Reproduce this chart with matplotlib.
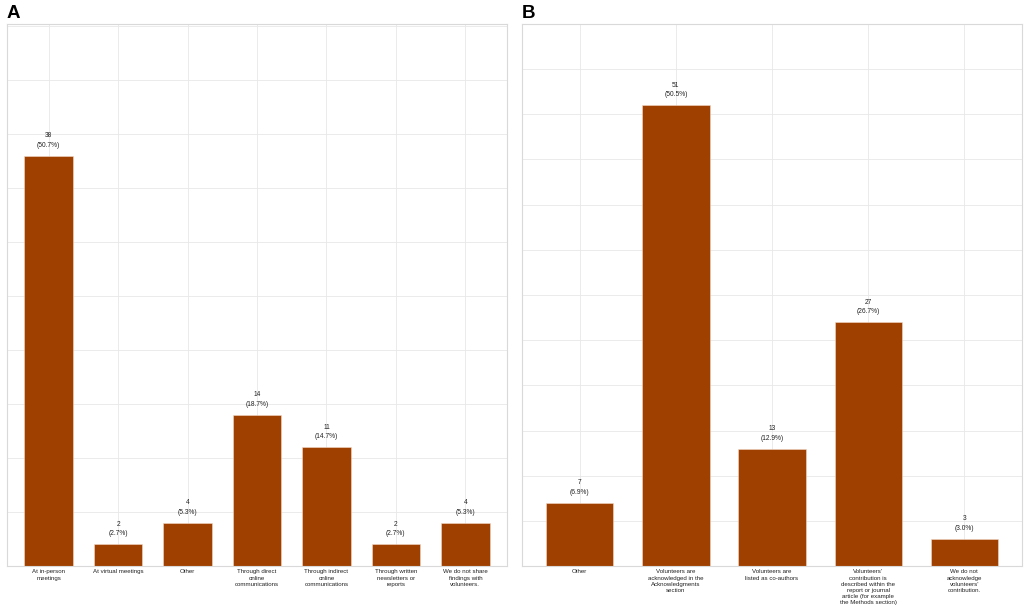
import matplotlib
matplotlib.use("Agg")
import matplotlib.pyplot as plt
import numpy as np

plt.rcParams['font.family'] = ['Liberation Sans', 'DejaVu Sans']

# panel A: how findings are shared with volunteers
cats_a = ["At in-person\nmeetings", "At virtual meetings", "Other",
          "Through direct\nonline\ncommunications",
          "Through indirect\nonline\ncommunications",
          "Through written\nnewsletters or\nreports",
          "We do not share\nfindings with\nvolunteers."]
counts_a = [38, 2, 4, 14, 11, 2, 4]

# panel B: how volunteers are acknowledged
cats_b = ["Other",
          "Volunteers are\nacknowledged in the\nAcknowledgments\nsection",
          "Volunteers are\nlisted as co-authors",
          "Volunteers'\ncontribution is\ndescribed within the\nreport or journal\narticle (for example\nthe Methods section)",
          "We do not\nacknowledge\nvolunteers'\ncontribution."]
counts_b = [7, 51, 13, 27, 3]

BAR = "#A04000"
GRID = "#E8E8E8"


def draw_panel(ax, cats, counts, ymax):
    x = np.arange(len(cats))
    total = sum(counts)
    ax.set_axisbelow(True)
    ax.bar(x, counts, width=0.7, color=BAR, edgecolor="#F3D9C8", linewidth=0.4)
    for xi, c in zip(x, counts):
        ax.annotate("%d\n(%.1f%%)" % (c, 100.0 * c / total), (xi, c),
                    xytext=(0, 5), textcoords="offset points",
                    ha="center", va="bottom", fontsize=4.8,
                    linespacing=1.5, color="#222222")
    ax.set_xlim(-0.6, len(cats) - 0.4)
    ax.set_ylim(0, ymax)
    ax.set_xticks(x)
    ax.set_xticklabels(cats, fontsize=4.4, linespacing=1.27, color="#222222")
    ax.set_yticks(np.arange(0, ymax + 0.1, 5))
    ax.set_yticklabels([])
    ax.tick_params(axis="both", length=0, pad=2.5)
    ax.grid(True, color=GRID, linewidth=0.6)
    for s in ax.spines.values():
        s.set_color("#D9D9D9")
        s.set_linewidth(0.8)


fig = plt.figure(figsize=(10.24, 6.09), dpi=100)
ax_a = fig.add_axes([0.0068, 0.0706, 0.4883, 0.8900])
ax_b = fig.add_axes([0.5098, 0.0706, 0.4883, 0.8900])

draw_panel(ax_a, cats_a, counts_a, 50.2)
draw_panel(ax_b, cats_b, counts_b, 60.0)

fig.text(0.0065, 0.992, "A", fontsize=13.5, fontweight="bold", va="top", ha="left")
fig.text(0.5095, 0.992, "B", fontsize=13.5, fontweight="bold", va="top", ha="left")

fig.savefig("out.png", dpi=100)
